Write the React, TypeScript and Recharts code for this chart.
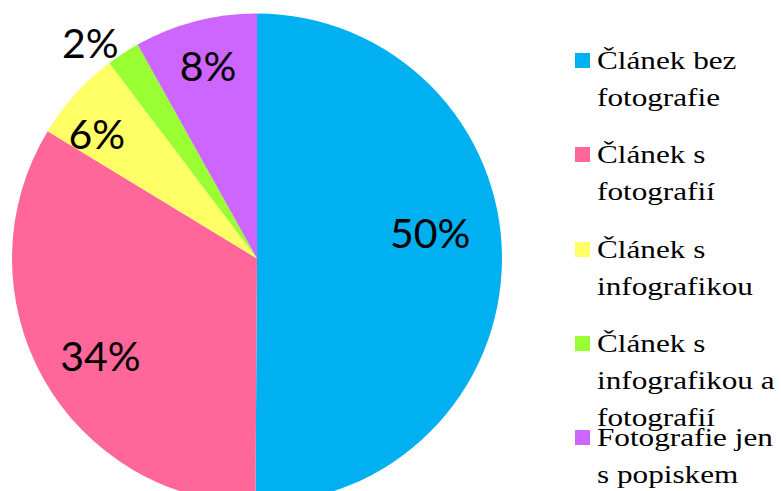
import React from 'react';
import { PieChart, Pie, Cell, Legend } from 'recharts';

const categories = [
  'Článek bez fotografie',
  'Článek s fotografií',
  'Článek s infografikou',
  'Článek s infografikou a fotografií',
  'Fotografie jen s popiskem',
];
const shares = [50.1, 33.6, 6.0, 2.2, 8.1];
const colors = ['#00B0F0', '#FF6699', '#FFFF66', '#99FF33', '#CC66FF'];

const data = categories.map((name, i) => ({ name, value: shares[i] }));

const RAD = Math.PI / 180;
// fine placement of the percentage labels (Excel "best fit" look)
const labelNudge = [
  [-13, -27],
  [6, 6],
  [-22, 0],
  [-18, 12],
  [-2, -13],
];

const renderLabel = (props: any) => {
  const { cx, cy, midAngle, outerRadius, percent, index } = props;
  const inside = percent >= 0.05;
  const r = outerRadius * (inside ? 0.76 : 1.11);
  const n = labelNudge[index] || [0, 0];
  const x = cx + r * Math.cos(-midAngle * RAD) + n[0];
  const y = cy + r * Math.sin(-midAngle * RAD) + n[1];
  return (
    <text
      x={x}
      y={y}
      textAnchor="middle"
      dominantBaseline="central"
      fill="#000"
      fontFamily="Lato, 'Noto Sans', sans-serif"
      fontSize={41}
    >
      {Math.round(percent * 100)}%
    </text>
  );
};

const renderLegend = () => {
  return (
    <div style={{ margin: 0, padding: 0 }}>
      {categories.map((name, i) => (
        <div key={name} style={{ position: 'relative', height: 94.25 }}>
          <div
            style={{
              position: 'absolute',
              left: 0,
              top: 11,
              width: 15,
              height: 15,
              background: colors[i],
            }}
          />
          <div
            style={{
              position: 'absolute',
              left: 22,
              top: 0,
              width: 155,
              fontFamily: "'Liberation Serif', 'Times New Roman', serif",
              fontSize: 26,
              lineHeight: '37px',
              color: '#000',
              transform: 'scaleX(1.2)',
              transformOrigin: 'left top',
              whiteSpace: 'normal',
            }}
          >
            {name}
          </div>
        </div>
      ))}
    </div>
  );
};

export default function App() {
  return (
    <div
      style={{
        position: 'absolute',
        left: 0,
        top: 0,
        width: 781,
        height: 491,
        overflow: 'hidden',
        background: '#fff',
      }}
    >
      <PieChart width={781} height={491} margin={{ top: 0, right: 0, bottom: 0, left: 0 }}>
        <Pie
          data={data}
          dataKey="value"
          nameKey="name"
          cx={257}
          cy={258.5}
          outerRadius={245}
          startAngle={90}
          endAngle={-270}
          stroke="none"
          label={renderLabel}
          labelLine={false}
          isAnimationActive={false}
        >
          {data.map((d, i) => (
            <Cell key={d.name} fill={colors[i]} />
          ))}
        </Pie>
        <Legend
          layout="vertical"
          align="right"
          verticalAlign="top"
          content={renderLegend}
          wrapperStyle={{ position: 'absolute', left: 575, top: 42, width: 206 }}
        />
      </PieChart>
    </div>
  );
}
